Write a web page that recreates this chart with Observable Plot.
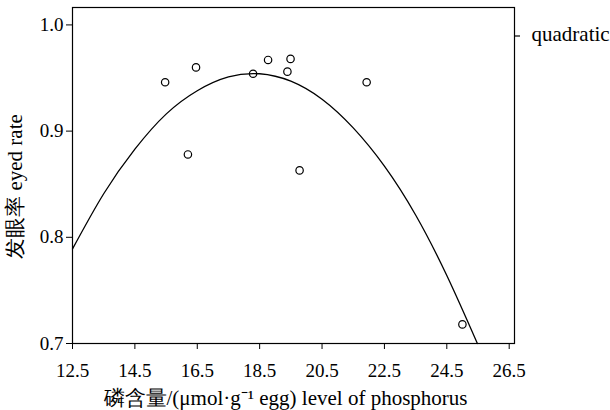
<!DOCTYPE html>
<html>
<head>
<meta charset="utf-8">
<script src="https://cdn.jsdelivr.net/npm/d3@7"></script>
<script src="https://cdn.jsdelivr.net/npm/@observablehq/plot@0.6"></script>
<style>
  html, body { margin: 0; padding: 0; background: white; }
</style>
</head>
<body>
<div id="chart"></div>
<script>
// Observed points
const phosphorus = [15.47, 16.46, 16.20, 18.29, 18.77, 19.49, 19.39, 19.78, 21.93, 25.00];
const eyedRate   = [0.946, 0.960, 0.878, 0.954, 0.967, 0.968, 0.956, 0.863, 0.946, 0.718];

// Quadratic fit curve
const fitX = [12.5, 13.5, 14.5, 15.5, 16.5, 17.5, 18.5, 19.5, 20.5, 21.5, 22.5, 23.5, 24.5, 25.48];
const fitY = [0.789, 0.841, 0.883, 0.916, 0.938, 0.951, 0.954, 0.947, 0.930, 0.903, 0.867, 0.821, 0.764, 0.700];

const xTicks = [12.5, 14.5, 16.5, 18.5, 20.5, 22.5, 24.5, 26.5];
const yTicks = [0.7, 0.8, 0.9, 1.0];

const xLabel = "磷含量/(μmol·g⁻¹ egg) level of phosphorus";
const yLabel = "发眼率 eyed rate";
const legendLabel = "quadratic";

const points = phosphorus.map((x, i) => ({x, y: eyedRate[i]}));
const fit = fitX.map((x, i) => ({x, y: fitY[i]}));

const FONT = "Liberation Serif";

const chart = Plot.plot({
  width: 610,
  height: 410,
  marginLeft: 72,
  marginRight: 96,
  marginTop: 7,
  marginBottom: 67,
  style: {fontSize: "19px", color: "black", background: "white", fontFamily: FONT},
  x: {domain: [12.5, 26.67], ticks: xTicks, tickFormat: d => d.toFixed(1), tickSize: 6, tickPadding: 14, label: null},
  y: {domain: [0.7, 1.0164], ticks: yTicks, tickFormat: d => d.toFixed(1), tickSize: 6, tickPadding: 3, label: null},
  marks: [
    Plot.frame({stroke: "black", strokeWidth: 1.2}),
    Plot.line(fit, {x: "x", y: "y", curve: "natural", stroke: "black", strokeWidth: 1.3}),
    Plot.dot(points, {x: "x", y: "y", r: 3.7, stroke: "black", strokeWidth: 1.2, fill: "none"}),
    Plot.text([xLabel], {frameAnchor: "bottom", dx: -8, dy: 61, fontSize: 21, fill: "black", fontFamily: FONT}),
    Plot.text([yLabel], {frameAnchor: "left", dx: -57, dy: 11, rotate: -90, textAnchor: "middle", lineAnchor: "middle", fontSize: 21, fill: "black", fontFamily: FONT}),
    Plot.text([legendLabel], {frameAnchor: "top-right", dx: 17, dy: 26.5, textAnchor: "start", lineAnchor: "middle", fontSize: 21, fill: "black", fontFamily: FONT}),
    (index, scales, values, dimensions) => {
      const x0 = dimensions.width - dimensions.marginRight;
      const y0 = dimensions.marginTop + 29;
      const line = d3.create("svg:line")
        .attr("x1", x0).attr("x2", x0 + 6)
        .attr("y1", y0).attr("y2", y0)
        .attr("stroke", "black").attr("stroke-width", 1.2);
      return line.node();
    }
  ]
});

d3.select(chart).selectAll("text").attr("font-family", FONT);

document.getElementById("chart").appendChild(chart);
</script>
</body>
</html>
